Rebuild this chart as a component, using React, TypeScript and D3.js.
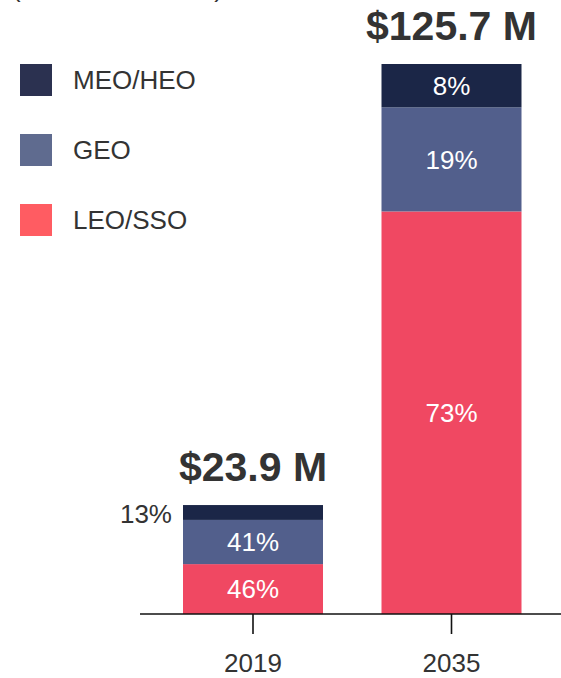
import React from "react";
import * as d3 from "d3";

const categories = ["2019", "2035"];
const seriesKeys = ["LEO/SSO", "GEO", "MEO/HEO"];
const leoValues = [11.4, 92.0];
const geoValues = [10.1, 23.8];
const meoValues = [3.4, 9.9];
const totalLabels = ["$23.9 M", "$125.7 M"];
const leoPct = ["46%", "73%"];
const geoPct = ["41%", "19%"];
const meoPct = ["13%", "8%"];
const legendKeys = ["MEO/HEO", "GEO", "LEO/SSO"];
const subtitle = "(Revenue in USD)";

const barColors: Record<string, string> = {
  "LEO/SSO": "#f04862",
  GEO: "#525f8c",
  "MEO/HEO": "#1b2647",
};
const legendColors: Record<string, string> = {
  "MEO/HEO": "#2b3150",
  GEO: "#5f6b8f",
  "LEO/SSO": "#ff5c62",
};

const W = 561;
const H = 678;
const FONT = "'Liberation Sans', Arial, Helvetica, sans-serif";
const TEXT = "#333333";

export default function App() {
  const rows = categories.map((c, i) => ({
    cat: c,
    "LEO/SSO": leoValues[i],
    GEO: geoValues[i],
    "MEO/HEO": meoValues[i],
  }));
  const pcts: Record<string, string[]> = {
    "LEO/SSO": leoPct,
    GEO: geoPct,
    "MEO/HEO": meoPct,
  };
  const stack = d3.stack<any>().keys(seriesKeys);
  const series = stack(rows);
  const maxTotal = d3.max(rows, (r) => r["LEO/SSO"] + r.GEO + r["MEO/HEO"]) as number;

  const x = d3.scalePoint<string>().domain(categories).range([253, 451.5]);
  const y = d3.scaleLinear().domain([0, maxTotal]).range([614, 64]);
  const barW = 140;
  const fs = 26;

  return (
    <svg
      width={W}
      height={H}
      style={{ position: "absolute", left: 0, top: 0, background: "#fff" }}
      fontFamily={FONT}
    >
      <text x={12} y={-3} fontSize={fs} fill={TEXT}>
        {subtitle}
      </text>

      {/* legend */}
      {legendKeys.map((k, i) => (
        <g key={k} transform={`translate(20, ${64 + i * 70})`}>
          <rect width={32} height={32} fill={legendColors[k]} />
          <text x={53} y={16 + 9.3} fontSize={fs} fill={TEXT}>
            {k}
          </text>
        </g>
      ))}

      {/* bars */}
      {series.map((s) => (
        <g key={s.key}>
          {s.map((d, i) => {
            const cx = x(categories[i]) as number;
            const y0 = y(d[1]);
            const y1 = y(d[0]);
            const mid = (y0 + y1) / 2;
            const label = pcts[s.key][i];
            const small = y1 - y0 < 30;
            return (
              <g key={i}>
                <rect x={cx - barW / 2} y={y0} width={barW} height={y1 - y0} fill={barColors[s.key]} />
                <text
                  x={small ? cx - barW / 2 - 11 : cx}
                  y={mid + 0.358 * fs + (small ? 1.5 : 0)}
                  fontSize={fs}
                  fill={small ? TEXT : "#ffffff"}
                  textAnchor={small ? "end" : "middle"}
                >
                  {label}
                </text>
              </g>
            );
          })}
        </g>
      ))}

      {/* totals */}
      {rows.map((r, i) => {
        const total = r["LEO/SSO"] + r.GEO + r["MEO/HEO"];
        return (
          <text
            key={r.cat}
            x={x(r.cat) as number}
            y={y(total) - 24}
            fontSize={41}
            fontWeight="bold"
            fill={TEXT}
            textAnchor="middle"
          >
            {totalLabels[i]}
          </text>
        );
      })}

      {/* axis */}
      <line x1={140} x2={W} y1={614} y2={614} stroke="#111" strokeWidth={1.6} />
      {categories.map((c) => (
        <g key={c} transform={`translate(${x(c)}, 614)`}>
          <line y1={0} y2={20} stroke="#111" strokeWidth={1.6} />
          <text y={58} fontSize={fs} fill={TEXT} textAnchor="middle">
            {c}
          </text>
        </g>
      ))}
    </svg>
  );
}
